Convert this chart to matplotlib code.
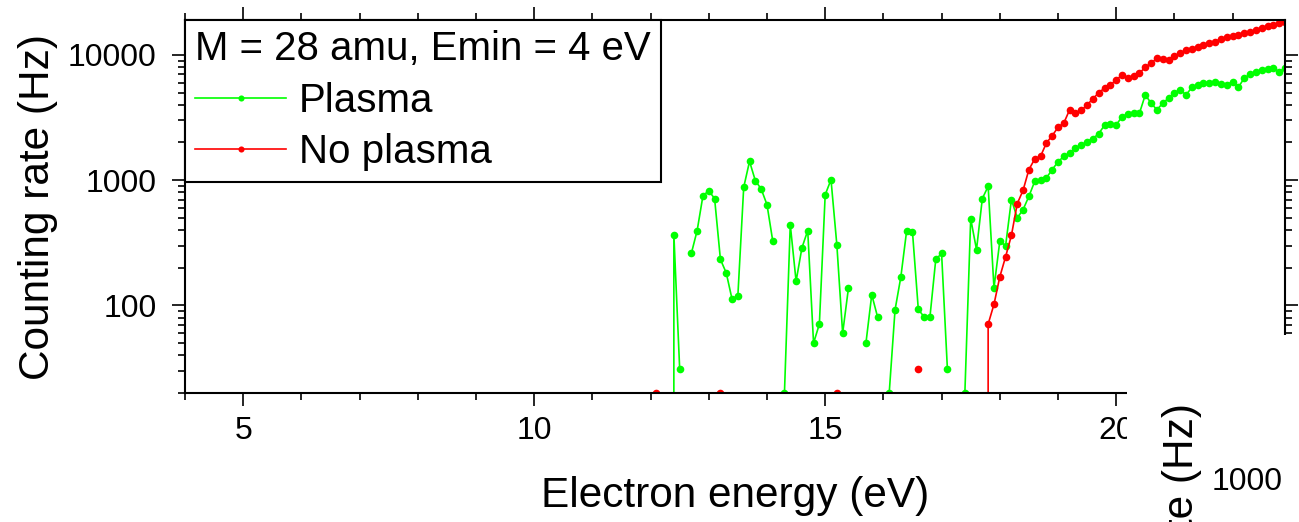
import numpy as np
import matplotlib
matplotlib.use('Agg')
import matplotlib.pyplot as plt
from matplotlib.ticker import MultipleLocator, LogLocator, FixedLocator, FixedFormatter, NullFormatter
from matplotlib.patches import Rectangle

plt.rcParams['font.family'] = ['Liberation Sans', 'DejaVu Sans']

N = np.nan

# electron energy grid (eV)
energy = [12.0, 12.1, 12.2, 12.3, 12.4, 12.5, 12.6, 12.7, 12.8, 12.9,
          13.0, 13.1, 13.2, 13.3, 13.4, 13.5, 13.6, 13.7, 13.8, 13.9,
          14.0, 14.1, 14.2, 14.3, 14.4, 14.5, 14.6, 14.7, 14.8, 14.9,
          15.0, 15.1, 15.2, 15.3, 15.4, 15.5, 15.6, 15.7, 15.8, 15.9,
          16.0, 16.1, 16.2, 16.3, 16.4, 16.5, 16.6, 16.7, 16.8, 16.9,
          17.0, 17.1, 17.2, 17.3, 17.4, 17.5, 17.6, 17.7, 17.8, 17.9,
          18.0, 18.1, 18.2, 18.3, 18.4, 18.5, 18.6, 18.7, 18.8, 18.9,
          19.0, 19.1, 19.2, 19.3, 19.4, 19.5, 19.6, 19.7, 19.8, 19.9,
          20.0, 20.1, 20.2, 20.3, 20.4, 20.5, 20.6, 20.7, 20.8, 20.9,
          21.0, 21.1, 21.2, 21.3, 21.4, 21.5, 21.6, 21.7, 21.8, 21.9,
          22.0, 22.1, 22.2, 22.3, 22.4, 22.5, 22.6, 22.7, 22.8, 22.9]

# counting rate with plasma (Hz)
plasma = [N, N, N, 0, 368, 31, N, 260, 396, 752,
          824, 713, 233, 182, 112, 120, 877, 1413, 991, 851,
          638, 325, N, 20, 442, 156, 288, 396, 50, 71,
          765, 1009, 306, 60, 138, N, N, 50, 122, 81,
          N, 20, 92, 169, 396, 386, 93, 81, 81, 233,
          260, 31, N, N, 20, 493, 279, 713, 893, 138,
          325, 300, 700, 500, 582, 743, 977, 1000, 1042, 1214,
          1400, 1550, 1647, 1800, 1900, 2036, 2150, 2350, 2750, 2800,
          2767, 3200, 3400, 3430, 3430, 4797, 4119, 3645, 4119, 4519,
          5000, 5263, 4797, 5500, 5768, 5946, 6000, 6126, 5900, 5768,
          6126, 5530, 6521, 7000, 7362, 7589, 7700, 7828, 7362, 7828]

# counting rate without plasma (Hz)
no_plasma = [N, 20, N, N, N, N, N, N, N, N,
             N, N, 20, N, N, N, N, N, N, N,
             N, N, N, N, N, N, N, N, N, N,
             N, N, 20, N, N, N, N, N, N, N,
             N, N, N, N, N, N, 31, N, N, N,
             N, N, N, N, N, N, N, 0, 71, 102,
             169, 245, 363, 650, 830, 1214, 1476, 1549, 1977, 2266,
             2636, 2859, 3645, 3430, 3600, 3996, 4458, 5000, 5430, 5768,
             6300, 6934, 6520, 6800, 7143, 8000, 8593, 9416, 9300, 9124,
             9800, 10300, 11000, 11200, 11640, 12000, 12390, 12770, 13400, 13990,
             14200, 14430, 15000, 15340, 15800, 16320, 17000, 17340, 17900, 18420]

yticks = [100, 1000, 10000]
ylabels = ['100', '1000', '10000']

fig = plt.figure(figsize=(12.99, 5.22), dpi=100)
ax = fig.add_axes([0.1424, 0.2471, 0.8468, 0.7146])

ax.plot(energy, plasma, '-o', color='#00ff00', lw=1.2, ms=5.5, mew=0, label='Plasma')
ax.plot(energy, no_plasma, '-o', color='#ff0000', lw=1.2, ms=5.5, mew=0, label='No plasma')

ax.set_yscale('log')
ax.set_xlim(4, 22.9)
ax.set_ylim(20, 19000)
ax.xaxis.set_major_locator(MultipleLocator(5))
ax.xaxis.set_minor_locator(MultipleLocator(1))
ax.yaxis.set_major_locator(FixedLocator(yticks))
ax.yaxis.set_major_formatter(FixedFormatter(ylabels))
ax.yaxis.set_minor_locator(LogLocator(base=10, subs=np.arange(2, 10)))
ax.yaxis.set_minor_formatter(NullFormatter())

for s in ax.spines.values():
    s.set_linewidth(1.5)
ax.tick_params(which='both', direction='out', top=True, right=True, width=1.2, labelsize=23)
ax.tick_params(which='major', length=9.5)
ax.tick_params(which='minor', length=5)
ax.tick_params(axis='x', pad=7)
ax.tick_params(axis='y', pad=11)

ax.set_xlabel('Electron energy (eV)', fontsize=30.5, labelpad=22)
ax.set_ylabel('Counting rate (Hz)', fontsize=30.5, labelpad=7)

leg = ax.legend(loc='upper left', bbox_to_anchor=(0, 1), borderaxespad=0,
                title='M = 28 amu, Emin = 4 eV', title_fontsize=29, fontsize=29,
                alignment='left', fancybox=False, framealpha=1, edgecolor='black',
                handlelength=2.27, handletextpad=0.3, borderpad=0.25,
                labelspacing=0.34, numpoints=1, markerscale=0.8)
leg.get_frame().set_linewidth(1.5)

# piece of the neighbouring panel that overlaps the lower right corner
fig.add_artist(Rectangle((0.8676, 0), 0.2, 0.358, transform=fig.transFigure,
                         facecolor='white', edgecolor='none', zorder=5))
fig.text(0.910, 0.228, 'Counting rate (Hz)', rotation=90, ha='center', va='top',
         fontsize=30.5, zorder=6)
fig.text(0.9604, 0.0613, '1000', ha='center', va='baseline', fontsize=23, zorder=6)

fig.savefig('out.png', dpi=100)
